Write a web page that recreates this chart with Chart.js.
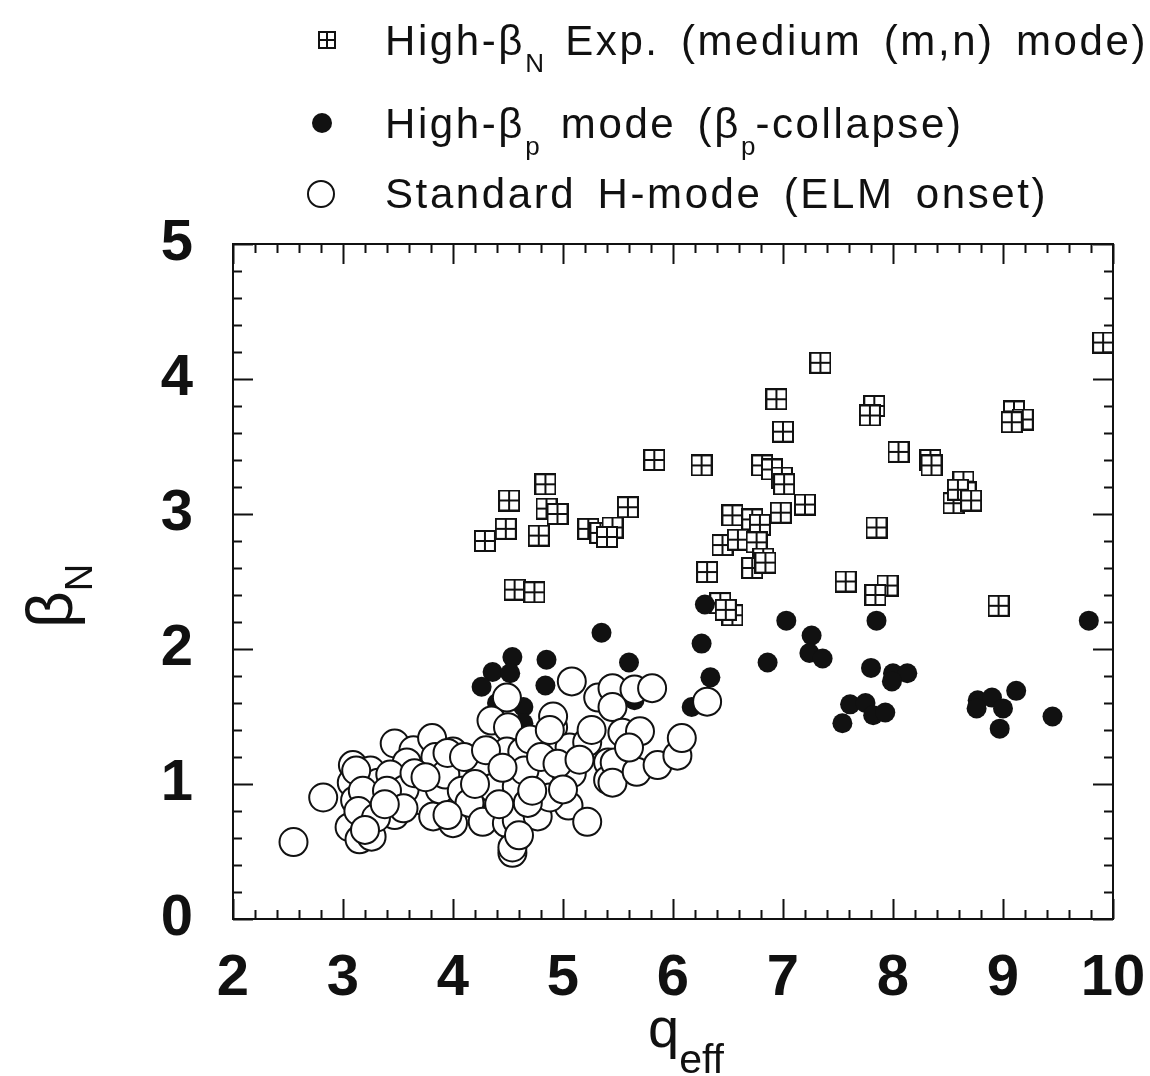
<!DOCTYPE html>
<html>
<head>
<meta charset="utf-8">
<script src="https://cdn.jsdelivr.net/npm/chart.js@4.4.1/dist/chart.umd.min.js"></script>
<style>
  html, body { margin: 0; padding: 0; background: #fff; }
  #wrap { position: relative; width: 1150px; height: 1076px; font-family: "Liberation Sans", Arial, sans-serif; color: #111; }
  #chart { position: absolute; left: 0; top: 0; }
  .txt { position: absolute; line-height: 1; white-space: nowrap; }
  .leg { left: 385px; font-size: 42px; letter-spacing: 2.6px; word-spacing: 7px; }
  .leg .sub { font-size: 26px; vertical-align: -17px; letter-spacing: 0; }
  .mk { position: absolute; box-sizing: border-box; }
</style>
</head>
<body>
<div id="wrap">
  <canvas id="chart" width="1150" height="1076"></canvas>

  <!-- legend -->
  <div class="mk" style="left:318px; top:31px; width:18px; height:18px; border:2px solid #111;"></div>
  <div class="mk" style="left:326px; top:31px; width:2px; height:18px; background:#111;"></div>
  <div class="mk" style="left:318px; top:39px; width:18px; height:2px; background:#111;"></div>
  <div class="txt leg" style="top:20px;">High-β<span class="sub">N</span> Exp. (medium (m,n) mode)</div>

  <div class="mk" style="left:312px; top:113px; width:20px; height:20px; border-radius:50%; background:#111;"></div>
  <div class="txt leg" style="top:103px;">High-β<span class="sub">p</span> mode (β<span class="sub">p</span>-collapse)</div>

  <div class="mk" style="left:307px; top:180px; width:28px; height:28px; border-radius:50%; border:2px solid #111;"></div>
  <div class="txt leg" style="top:173px;">Standard H-mode (ELM onset)</div>

  <!-- axis titles -->
  <div class="txt" style="left:18px; top:588px; font-size:64px; transform: translate(0,-50%) rotate(-90deg); transform-origin: 40px 50%;">β<span style="font-size:38px; vertical-align:-20px;">N</span></div>
  <div class="txt" style="left:648px; top:1000px; font-size:56px;">q<span style="font-size:41px; vertical-align:-26px;">eff</span></div>
</div>

<script>
// q_eff range and beta_N range
const xTicks = [2, 3, 4, 5, 6, 7, 8, 9, 10];
const yTicks = [0, 1, 2, 3, 4, 5];

// High-beta_N experiments (medium (m,n) mode) – boxed crosses
const boxQ = [4.29, 4.48, 4.51, 4.84, 4.85, 4.95, 4.78, 5.23, 5.34, 5.45, 5.40, 5.59, 5.83, 4.56, 4.74,
  7.34, 6.94, 7.00, 7.83, 7.79, 9.10, 9.18, 9.08, 9.91, 8.05, 8.34, 8.35, 8.64, 8.66, 8.55, 8.59, 8.71,
  6.26, 6.81, 6.90, 6.99, 7.01, 7.20, 6.98, 6.54, 6.72, 6.79, 6.45, 6.59, 6.76, 6.82, 6.72, 6.84, 6.31,
  7.85, 7.57, 7.95, 7.84, 8.96, 6.43, 6.54, 6.48];
const boxBeta = [2.80, 2.89, 3.10, 3.22, 3.04, 3.00, 2.84, 2.89, 2.86, 2.90, 2.83, 3.05, 3.40, 2.44, 2.42,
  4.12, 3.85, 3.61, 3.80, 3.73, 3.76, 3.70, 3.68, 4.27, 3.46, 3.40, 3.36, 3.24, 3.16, 3.08, 3.18, 3.10,
  3.36, 3.36, 3.33, 3.27, 3.22, 3.07, 3.01, 2.99, 2.96, 2.92, 2.77, 2.81, 2.79, 2.67, 2.60, 2.64, 2.57,
  2.90, 2.50, 2.47, 2.40, 2.32, 2.34, 2.25, 2.29];

// High-beta_p mode (beta_p collapse) – filled circles
const fillQ = [6.29, 6.26, 6.34, 6.17, 7.03, 6.86, 7.26, 7.24, 7.36, 7.85, 7.80, 8.00, 8.13, 7.99,
  7.61, 7.75, 7.54, 7.82, 7.93, 8.77, 8.90, 8.76, 9.00, 8.97, 9.12, 9.45, 9.78,
  4.54, 4.36, 4.26, 4.52, 4.64, 4.64, 4.85, 4.84, 5.35, 5.60, 5.65, 4.40];
const fillBeta = [2.33, 2.04, 1.79, 1.57, 2.21, 1.90, 2.10, 1.97, 1.93, 2.21, 1.86, 1.82, 1.82, 1.76,
  1.59, 1.60, 1.45, 1.51, 1.53, 1.62, 1.64, 1.56, 1.56, 1.41, 1.69, 1.50, 2.21,
  1.94, 1.83, 1.72, 1.82, 1.57, 1.45, 1.92, 1.73, 2.12, 1.90, 1.62, 1.60];

// Standard H-mode (ELM onset) – open circles
const openQ = [2.55, 2.82, 3.06, 3.15, 3.26, 3.09, 3.08, 3.25, 3.32, 3.35, 3.22, 3.47, 3.64, 3.58, 3.81,
  3.84, 3.72, 3.70, 3.82, 4.00, 4.00, 4.15, 3.99, 4.00, 4.17, 3.11, 3.43, 3.47, 3.56, 3.88, 3.93,
  3.12, 3.18, 3.14, 3.40, 3.30, 3.55, 3.65, 3.20, 3.38, 3.75, 4.08,
  4.49, 4.35, 4.50, 3.95, 4.25, 4.49, 4.63, 4.36, 4.58, 4.79, 4.15, 3.95, 4.27, 4.49, 4.58, 4.77,
  4.54, 4.54, 4.91, 4.91, 5.06, 5.08, 5.22, 5.05, 5.22, 5.08, 5.32, 5.41, 5.41, 4.88, 4.68, 4.70,
  4.20, 4.42, 4.65, 4.10, 4.30, 4.80, 4.95, 4.45, 4.72, 4.88, 4.60, 5.00, 5.15,
  5.45, 5.65, 5.81, 5.45, 5.26, 5.54, 5.70, 5.47, 5.45, 5.67, 5.86, 6.04, 6.08, 6.31, 5.60];
const openBeta = [0.57, 0.90, 0.68, 0.59, 0.61, 1.14, 1.01, 1.10, 1.01, 0.88, 0.79, 1.30, 1.25, 1.16, 1.34,
  1.20, 0.99, 0.88, 0.76, 1.24, 1.13, 1.09, 0.88, 0.71, 0.87, 0.88, 1.07, 0.77, 0.96, 0.96, 1.07,
  1.10, 0.95, 0.80, 0.95, 0.75, 0.82, 1.08, 0.66, 0.85, 1.05, 0.95,
  1.64, 1.47, 1.42, 1.23, 1.09, 1.24, 1.24, 0.97, 0.98, 1.01, 0.86, 0.77, 0.72, 0.71, 0.73, 0.76,
  0.49, 0.53, 1.42, 1.50, 1.27, 1.08, 1.31, 0.84, 0.72, 1.76, 1.64, 1.16, 1.03, 0.90, 0.86, 1.33,
  1.00, 0.85, 1.10, 1.20, 1.25, 1.20, 1.15, 1.12, 0.95, 1.40, 0.62, 0.96, 1.18,
  1.71, 1.70, 1.71, 1.57, 1.40, 1.38, 1.39, 1.16, 1.01, 1.09, 1.14, 1.21, 1.34, 1.61, 1.27];

const toPoints = (xs, ys) => xs.map((x, i) => ({ x: x, y: ys[i] }));

// boxed cross marker
const makeBoxCross = (size) => {
  const c = document.createElement('canvas');
  c.width = size; c.height = size;
  const g = c.getContext('2d');
  g.fillStyle = '#fff';
  g.fillRect(1, 1, size - 2, size - 2);
  g.strokeStyle = '#111';
  g.lineWidth = 2;
  g.strokeRect(1, 1, size - 2, size - 2);
  g.beginPath();
  g.moveTo(size / 2, 1); g.lineTo(size / 2, size - 1);
  g.moveTo(1, size / 2); g.lineTo(size - 1, size / 2);
  g.stroke();
  return c;
};
const boxMarker = makeBoxCross(22);

// frame with inward ticks on all four sides
const frameTicks = {
  id: 'frameTicks',
  afterDatasetsDraw(chart) {
    const { ctx, chartArea: a, scales: { x, y } } = chart;
    ctx.save();
    ctx.strokeStyle = '#111';
    ctx.lineWidth = 2;
    ctx.strokeRect(a.left, a.top, a.right - a.left, a.bottom - a.top);
    ctx.beginPath();
    for (let v = 2; v <= 10.001; v += 0.2) {
      const major = Math.abs(v - Math.round(v)) < 1e-6;
      const len = major ? 20 : 9;
      const px = Math.round(x.getPixelForValue(v)) + 0.5;
      ctx.moveTo(px, a.bottom); ctx.lineTo(px, a.bottom - len);
      ctx.moveTo(px, a.top); ctx.lineTo(px, a.top + len);
    }
    for (let v = 0; v <= 5.001; v += 0.2) {
      const major = Math.abs(v - Math.round(v)) < 1e-6;
      const len = major ? 20 : 9;
      const py = Math.round(y.getPixelForValue(v)) + 0.5;
      ctx.moveTo(a.left, py); ctx.lineTo(a.left + len, py);
      ctx.moveTo(a.right, py); ctx.lineTo(a.right - len, py);
    }
    ctx.stroke();
    ctx.restore();
  }
};

const tickFont = { family: '"Liberation Sans", Arial, sans-serif', size: 58, weight: 'bold' };

new Chart(document.getElementById('chart'), {
  type: 'scatter',
  data: {
    datasets: [
      {
        label: 'Standard H-mode (ELM onset)',
        data: toPoints(openQ, openBeta),
        pointStyle: 'circle',
        pointRadius: 14,
        backgroundColor: '#fff',
        borderColor: '#111',
        borderWidth: 2
      },
      {
        label: 'High-βp mode (βp-collapse)',
        data: toPoints(fillQ, fillBeta),
        pointStyle: 'circle',
        pointRadius: 10,
        backgroundColor: '#111',
        borderColor: '#111',
        borderWidth: 0
      },
      {
        label: 'High-βN Exp. (medium (m,n) mode)',
        data: toPoints(boxQ, boxBeta),
        pointStyle: boxMarker
      }
    ]
  },
  options: {
    responsive: false,
    animation: false,
    layout: { padding: { top: 244, right: 37, left: 0, bottom: 0 } },
    plugins: { legend: { display: false }, tooltip: { enabled: false } },
    scales: {
      x: {
        type: 'linear', min: 2, max: 10,
        afterFit: (s) => { s.height = 157; s.paddingLeft = 0; s.paddingRight = 0; },
        grid: { display: false, drawTicks: false },
        border: { display: false },
        ticks: {
          stepSize: 1, color: '#111', font: tickFont, padding: 25, maxRotation: 0,
          callback: (v) => xTicks.includes(v) ? String(v) : ''
        }
      },
      y: {
        type: 'linear', min: 0, max: 5,
        afterFit: (s) => { s.width = 233; s.paddingTop = 0; s.paddingBottom = 0; },
        grid: { display: false, drawTicks: false },
        border: { display: false },
        ticks: {
          stepSize: 1, color: '#111', font: tickFont, padding: 40,
          callback: (v) => yTicks.includes(v) ? String(v) : ''
        }
      }
    }
  },
  plugins: [frameTicks]
});
</script>
</body>
</html>
